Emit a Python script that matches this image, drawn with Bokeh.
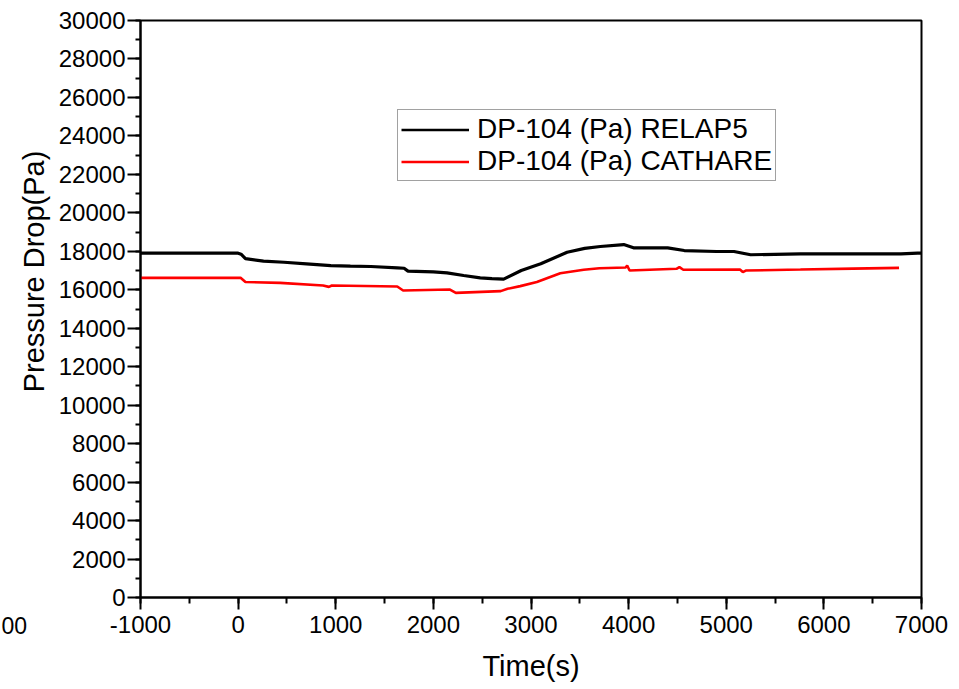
import math
from bokeh.plotting import figure
from bokeh.layouts import row
from bokeh.models import (Range1d, SingleIntervalTicker, Legend, LegendItem,
                          NumeralTickFormatter)
from bokeh.core.properties import value
from bokeh.embed import file_html
from bokeh.resources import INLINE

# ---- data ----
relap_t = [-1000, 0, 30, 75, 260, 470, 700, 950, 1150, 1360, 1630, 1700, 1740, 2000,
           2140, 2310, 2480, 2600, 2720, 2900, 3100, 3370, 3550, 3710, 3950, 4050,
           4400, 4570, 4900, 5080, 5250, 5760, 6300, 6790, 6960, 7000]
relap_p = [17900, 17900, 17850, 17620, 17490, 17430, 17350, 17260, 17230, 17210, 17140,
           17120, 16970, 16930, 16880, 16740, 16620, 16580, 16550, 17000, 17350, 17950,
           18150, 18250, 18350, 18180, 18180, 18040, 17990, 17990, 17820, 17870, 17870,
           17870, 17900, 17900]

cathare_t = [-1000, 25, 75, 430, 870, 930, 960, 1630, 1690, 2170, 2230, 2690, 2760,
             2890, 3060, 3300, 3540, 3700, 3970, 3985, 4010, 4490, 4520, 4560, 5140,
             5170, 5200, 5760, 6300, 6770]
cathare_p = [16620, 16620, 16400, 16360, 16220, 16150, 16220, 16170, 15960, 16010,
             15840, 15930, 16050, 16190, 16400, 16860, 17040, 17120, 17160, 17260,
             17000, 17090, 17180, 17040, 17050, 16920, 17000, 17050, 17100, 17140]

series_names = ["DP-104 (Pa) RELAP5", "DP-104 (Pa) CATHARE"]
series_colors = ["#000000", "#ff0000"]
x_title = "Time(s)"
y_title = "Pressure Drop(Pa)"
stray_text = "00"

FONT = "Liberation Sans"
H = 689
LEFT_W = 55

# ---- main plot ----
p = figure(width=959 - LEFT_W, height=H, output_backend="svg", toolbar_location=None,
           x_range=Range1d(-1000, 7000), y_range=Range1d(0, 30000),
           min_border_left=140 - LEFT_W, min_border_right=38, min_border_top=20,
           min_border_bottom=92)
p.frame_align = False
p.background_fill_color = "white"
p.border_fill_color = "white"
p.xgrid.visible = False
p.ygrid.visible = False
p.outline_line_color = "black"
p.outline_line_width = 2

xa = p.xaxis[0]
xa.ticker = SingleIntervalTicker(interval=1000, num_minor_ticks=2)
ya = p.yaxis[0]
ya.ticker = SingleIntervalTicker(interval=2000, num_minor_ticks=2)
for ax in (xa, ya):
    ax.formatter = NumeralTickFormatter(format="0")
    ax.axis_line_width = 2
    ax.major_tick_line_width = 2
    ax.minor_tick_line_width = 2
    ax.major_tick_in = 0
    ax.minor_tick_in = 0
    ax.major_label_text_font = FONT
    ax.major_label_text_font_size = "24px"
    ax.major_label_text_color = "black"
    ax.axis_label_text_font = FONT
    ax.axis_label_text_font_style = "normal"
    ax.axis_label_text_font_size = "29px"
    ax.axis_label_text_color = "black"
xa.major_tick_out = 12
xa.minor_tick_out = 6
xa.major_label_standoff = 6
xa.axis_label = x_title
xa.axis_label_standoff = 14
ya.major_tick_out = 13
ya.minor_tick_out = 5
ya.major_label_standoff = 2

# data lines
p.line(relap_t, relap_p, line_color=series_colors[0], line_width=3.2)
p.line(cathare_t, cathare_p, line_color=series_colors[1], line_width=2.6)

# legend proxies (thinner line samples, drawn outside the visible range)
r1 = p.line(x=[-9000, -8999], y=[-9000, -9000], line_color=series_colors[0], line_width=2.4)
r2 = p.line(x=[-9000, -8999], y=[-9000, -9000], line_color=series_colors[1], line_width=2.4)
legend = Legend(items=[LegendItem(label=series_names[0], renderers=[r1]),
                       LegendItem(label=series_names[1], renderers=[r2])],
                location=(257, 416), orientation="vertical",
                label_text_font=FONT, label_text_font_size="28px",
                label_text_color="black", label_height=27, glyph_width=68,
                glyph_height=27, label_standoff=8, spacing=0, padding=3, margin=0,
                border_line_color="#444444", border_line_width=1,
                background_fill_alpha=1.0)
p.add_layout(legend)

# ---- left strip holding the y-axis title and the stray label ----
s = figure(width=LEFT_W, height=H, output_backend="svg", toolbar_location=None,
           x_range=Range1d(0, LEFT_W), y_range=Range1d(0, H),
           x_axis_location=None, y_axis_location=None,
           min_border=0, min_border_left=0, min_border_right=0,
           min_border_top=0, min_border_bottom=0)
s.frame_align = False
s.outline_line_color = None
s.xgrid.visible = False
s.ygrid.visible = False
s.background_fill_color = "white"
s.border_fill_color = "white"
s.text(x=[33], y=[H - 271], text=[y_title], angle=math.pi / 2,
       text_align="center", text_baseline="middle", text_font=value(FONT),
       text_font_size="29px", text_color="black")
s.text(x=[1], y=[H - 625], text=[stray_text], text_align="left",
       text_baseline="middle", text_font=value(FONT), text_font_size="23px",
       text_color="black")

layout = row(s, p, spacing=0)
open("out.html", "w").write(file_html(layout, INLINE))
